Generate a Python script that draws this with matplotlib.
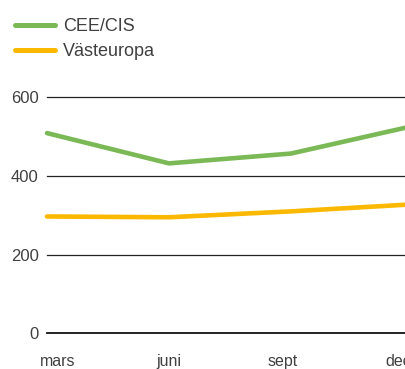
import matplotlib
matplotlib.use("Agg")
import matplotlib.pyplot as plt
from matplotlib.lines import Line2D

months = ["mars", "juni", "sept", "dec"]
cee_cis = [509, 432, 457, 527]
vasteuropa = [297, 295, 310, 328]
y_ticks = [0, 200, 400, 600]

green = "#7ab956"
yellow = "#fbb800"
text_color = "#404040"

plt.rcParams["font.family"] = ["Liberation Sans", "DejaVu Sans"]

W, H = 406, 369
fig = plt.figure(figsize=(W / 100, H / 100), dpi=100)

# axes extend slightly past the right edge of the figure, so the last month is cut
left_px, right_px = 47, 413
bottom_px, top_px = 333.3, 97.3
ax = fig.add_axes([left_px / W, (H - bottom_px) / H,
                   (right_px - left_px) / W, (bottom_px - top_px) / H])

x = list(range(len(months)))
ax.plot(x, cee_cis, color=green, lw=3.3, solid_capstyle="round",
        solid_joinstyle="round", clip_on=False, zorder=3)
ax.plot(x, vasteuropa, color=yellow, lw=3.3, solid_capstyle="round",
        solid_joinstyle="round", clip_on=False, zorder=3)

ax.set_xlim(0, len(months) - 1)
ax.set_ylim(0, 600)

for v in y_ticks:
    ax.axhline(v, color="#222222" if v != 0 else "#111111",
               lw=0.9 if v != 0 else 1.3, zorder=1, clip_on=False)

for s in ax.spines.values():
    s.set_visible(False)

ax.set_yticks(y_ticks)
ax.set_yticklabels([str(v) for v in y_ticks])
ax.tick_params(axis="y", length=0, pad=6, labelsize=12, labelcolor=text_color)

# month labels sit a little off the data points
ax.set_xticks([0.09, 0.995, 1.93, 2.88])
ax.set_xticklabels(months)
ax.tick_params(axis="x", length=0, pad=15, labelsize=11.5, labelcolor=text_color)

handles = [Line2D([], [], color=green, lw=3.6, solid_capstyle="round"),
           Line2D([], [], color=yellow, lw=3.6, solid_capstyle="round")]
fig.legend(handles, ["CEE/CIS", "Västeuropa"], loc="upper left",
           bbox_to_anchor=(0.0, 1.0 - 3 / H), frameon=False, fontsize=13,
           handlelength=2.2, handletextpad=0.45, labelspacing=0.45,
           borderaxespad=0.45, labelcolor=text_color)

fig.savefig("out.png", dpi=100)
